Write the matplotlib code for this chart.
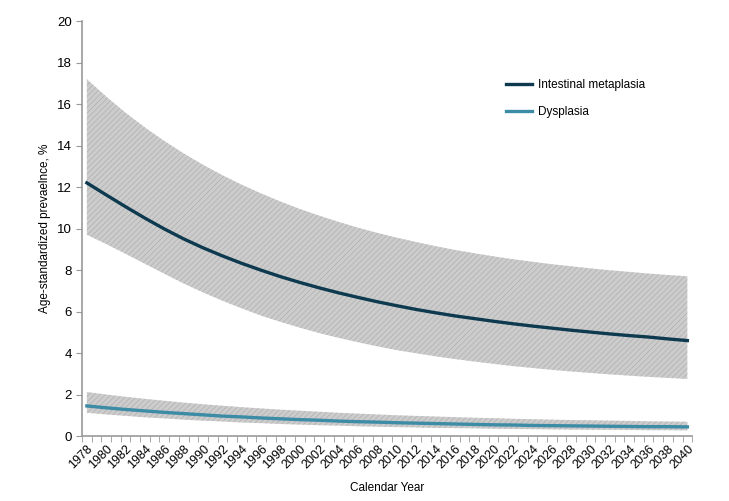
import numpy as np
import matplotlib
matplotlib.use("Agg")
import matplotlib.pyplot as plt

plt.rcParams['font.family'] = ['Liberation Sans', 'DejaVu Sans']
plt.rcParams['hatch.linewidth'] = 0.4

years = np.arange(1978, 2041, 2)

# intestinal metaplasia: mean and uncertainty band
im_mean = [12.20, 11.62, 11.05, 10.50, 9.98, 9.50, 9.07, 8.68, 8.32, 7.99,
           7.68, 7.40, 7.14, 6.90, 6.68, 6.47, 6.28, 6.10, 5.94, 5.79,
           5.66, 5.53, 5.41, 5.30, 5.20, 5.10, 5.01, 4.92, 4.84, 4.77,
           4.68, 4.60]
im_upper = [17.20, 16.36, 15.58, 14.87, 14.22, 13.62, 13.07, 12.57, 12.11, 11.69,
            11.30, 10.94, 10.62, 10.32, 10.04, 9.79, 9.56, 9.35, 9.15, 8.97,
            8.81, 8.66, 8.52, 8.40, 8.28, 8.18, 8.08, 7.99, 7.91, 7.83,
            7.76, 7.70]
im_lower = [9.70, 9.25, 8.78, 8.30, 7.82, 7.35, 6.92, 6.52, 6.15, 5.80,
            5.50, 5.22, 4.96, 4.73, 4.52, 4.32, 4.14, 3.99, 3.84, 3.71,
            3.59, 3.48, 3.37, 3.28, 3.19, 3.11, 3.04, 2.97, 2.91, 2.85,
            2.80, 2.75]

# dysplasia
dy_mean = [1.45, 1.36, 1.28, 1.21, 1.14, 1.08, 1.02, 0.96, 0.92, 0.87,
           0.83, 0.79, 0.76, 0.72, 0.69, 0.67, 0.64, 0.62, 0.60, 0.58,
           0.56, 0.54, 0.53, 0.51, 0.50, 0.49, 0.48, 0.47, 0.46, 0.45,
           0.45, 0.44]
dy_upper = [2.12, 2.00, 1.89, 1.79, 1.70, 1.61, 1.53, 1.46, 1.39, 1.33,
            1.27, 1.22, 1.17, 1.12, 1.08, 1.04, 1.00, 0.97, 0.94, 0.91,
            0.88, 0.86, 0.83, 0.81, 0.79, 0.77, 0.76, 0.74, 0.73, 0.71,
            0.70, 0.69]
dy_lower = [1.12, 1.04, 0.97, 0.90, 0.85, 0.79, 0.74, 0.70, 0.65, 0.62,
            0.58, 0.55, 0.52, 0.50, 0.47, 0.45, 0.43, 0.41, 0.39, 0.38,
            0.37, 0.35, 0.34, 0.33, 0.32, 0.31, 0.30, 0.30, 0.29, 0.28,
            0.28, 0.27]

fig = plt.figure(figsize=(7.29, 5.01), dpi=100)
ax = fig.add_axes([0.1125, 0.1297, 0.837, 0.8283])

ax.fill_between(years, im_lower, im_upper, facecolor='#cccccc',
                edgecolor='#a8a8a8', hatch='//////', linewidth=0)
ax.fill_between(years, dy_lower, dy_upper, facecolor='#cccccc',
                edgecolor='#a8a8a8', hatch='//////', linewidth=0)
ax.plot(years, im_mean, color='#0e3a50', lw=2.4, label='Intestinal metaplasia')
ax.plot(years, dy_mean, color='#3c8ca6', lw=2.4, label='Dysplasia')

ax.set_xlim(1977.5, 2040.25)
ax.set_ylim(0, 20)
ax.set_yticks(range(0, 21, 2))
ax.set_xticks(years)
ax.set_xticklabels([str(y) for y in years], rotation=45, ha='right',
                   rotation_mode='anchor', fontsize=9)
ax.set_xticks(np.arange(1977.5, 2041, 1), minor=True)
ax.tick_params(axis='x', which='major', length=0, pad=5)
ax.tick_params(axis='x', which='minor', length=4, color='#999999')
ax.tick_params(axis='y', length=4, color='#999999', labelsize=9.5)

for s in ['top', 'right']:
    ax.spines[s].set_visible(False)
for s in ['left', 'bottom']:
    ax.spines[s].set_color('#999999')
    ax.spines[s].set_linewidth(1.2)

ax.set_xlabel('Calendar Year', fontsize=8.5, labelpad=8)
ax.set_ylabel('Age-standardized prevaelnce, %', fontsize=8.5, labelpad=4)

ax.legend(loc='upper left', bbox_to_anchor=(0.685, 0.875), frameon=False,
          fontsize=8.5, handlelength=2.2, handletextpad=0.5,
          labelspacing=1.3, borderpad=0)

fig.savefig('out.png', dpi=100)
